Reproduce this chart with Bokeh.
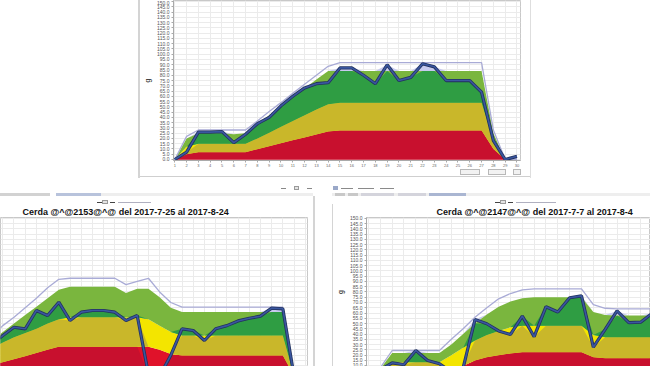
import numpy as np
from bokeh.plotting import figure
from bokeh.layouts import column, row
from bokeh.models import Range1d, FixedTicker, NumeralTickFormatter, Spacer
from bokeh.embed import file_html
from bokeh.resources import INLINE

# ---------------- data ----------------
top_days = list(range(30))
top_real = [0, 7, 26, 26, 26.5, 16, 24, 34, 40, 51, 60, 68, 72, 73, 87, 87, 80, 72, 90, 75,
            78, 91, 88, 75, 75, 75, 64, 18, 0, 3]
top_red = [0, 5, 7, 7, 7, 7, 7, 9.8, 12.6, 15.4, 18.2, 21, 23.7, 26.5, 27.5, 27.5, 27.5, 27.5,
           27.5, 27.5, 27.5, 27.5, 27.5, 27.5, 27.5, 27.5, 27.5, 10, 0, 0]
top_yellow = [0, 12, 15, 15, 15, 15, 15, 20, 25.5, 31, 36.5, 42, 47.5, 52.5, 54, 54, 54, 54,
              54, 54, 54, 54, 54, 54, 54, 54, 54, 18, 0, 0]
top_green = [0, 20, 25, 25, 25, 24, 25, 33.5, 42, 50.5, 59, 67.5, 76, 84, 84, 84, 84, 84,
             84, 84, 84, 84, 84, 84, 84, 84, 84, 25, 0, 0]
top_max = [0, 22, 28, 28, 28, 28, 28, 36.5, 45.5, 54, 63, 71.5, 80, 88.5, 92, 92, 92, 92,
           92, 92, 92, 92, 92, 92, 92, 92, 92, 28, 0, 0]

bl_title = "Cerda @^@2153@^@ del 2017-7-25 al 2017-8-24"
bl_days = list(range(-2, 28))
bl_real = [20, 30, 38.6, 46.5, 45, 62.4, 57.6, 70.3, 52.9, 60.8, 62.4, 62.4, 60.8, 52.9, 57.6,
           2, 0, 20, 45, 43.4, 33.9, 45, 48, 52.5, 55, 57, 64.6, 64, 0, 0]
bl_red = [7, 10, 13.3, 16, 19, 22, 25, 28, 28, 28, 28, 28, 28, 28, 28, 28, 25, 21,
          19.7, 19.7, 19.7, 19.7, 19.7, 19.7, 19.7, 19.7, 19.7, 19.7, 0, 0]
bl_yellow = [18, 26, 32, 37, 41, 45, 50, 54, 56, 56, 56, 56, 56, 56, 56, 54, 48, 42,
             38.6, 38.6, 38.6, 38.6, 38.6, 38.6, 38.6, 38.6, 38.6, 38.6, 0, 0]
bl_green = [22, 33, 42, 50, 58, 66, 74, 82, 85, 85, 85, 85, 85, 79, 83, 83, 75, 65,
            61, 61, 61, 61, 61, 61, 61, 61, 61, 61, 0, 0]
bl_max = [25, 38, 48, 56, 65, 74, 84, 92, 93, 93, 93, 93, 93, 87, 90, 93, 80, 70,
          65.5, 65.5, 65.5, 65.5, 65.5, 65.5, 65.5, 65.5, 65.5, 65.5, 0, 0]

br_title = "Cerda @^@2147@^@ del 2017-7-7 al 2017-8-4"
br_days = list(range(-2, 24))
br_real = [0, 0, 6, 12.7, 11, 24.4, 14.9, 11.8, 4, 8, 53.8, 49.8, 43, 39.6, 57, 37.5, 66, 61,
           74.5, 76.3, 27.5, 44.5, 62, 50.8, 51.3, 60]
br_red = [0, 0, 2, 5, 5, 5, 5, 5, 7, 10, 15, 18, 20, 21.5, 22.8, 22.8, 22.8, 22.8, 22.8, 22.8,
          18, 17, 17, 17, 17, 17]
br_yellow = [0, 0, 5, 13.3, 13.3, 13.3, 13.3, 13.3, 20, 27, 34, 39, 43, 46.5, 48, 48, 48, 48,
             48, 48, 39, 37, 37, 37, 37, 37]
br_green = [0, 0, 7, 22, 22, 22, 22, 22, 30, 40, 50, 58.5, 66, 71, 74, 75, 75, 75, 75, 75,
            61, 58, 57.6, 57.6, 57.6, 57.6]
br_max = [0, 0, 8, 24.4, 24.4, 24.4, 24.4, 24.4, 35, 45, 56, 65, 73.5, 78.5, 82, 83, 83, 83,
          83, 83, 68, 64.5, 64, 64, 64, 64]

y_ticks = list(range(0, 155, 5))

# ---------------- styles ----------------
LAV = "#c7caee"
RED_B, RED_D = "#e0122a", "#c8102e"
YEL_B, YEL_D = "#f3e500", "#c9b72a"
GRN_L, GRN_D = "#7ab63e", "#2f9d43"
ENV = "#a9abd6"
LINE = "#3a56a0"
GRID = "#ebebeb"
FONT = "Liberation Sans"
FRAME = "#d4d4d4"


def draw(p, days, real, red, yel, grn, mx):
    x = np.array(days, float)
    d = np.array(real, float)
    r = np.array(red, float)
    y = np.array(yel, float)
    g = np.array(grn, float)
    e = np.array(mx, float)
    z = np.zeros_like(d)
    p.varea(x, g, np.maximum(d, g), fill_color=LAV)
    p.varea(x, z, r, fill_color=RED_B)
    p.varea(x, r, y, fill_color=YEL_B)
    p.varea(x, y, g, fill_color=GRN_L)
    p.varea(x, z, np.clip(d, z, r), fill_color=RED_D)
    p.varea(x, r, np.clip(d, r, y), fill_color=YEL_D)
    p.varea(x, y, np.clip(d, y, g), fill_color=GRN_D)
    p.line(x, e, line_color=ENV, line_width=1.3)
    p.line(x, d, line_color="#22325e", line_width=3.2)
    p.line(x, d, line_color=LINE, line_width=1.6)


def style(p, days):
    p.background_fill_color = "white"
    p.border_fill_color = "white"
    p.outline_line_color = "#c8c8c8"
    p.xgrid.ticker = FixedTicker(ticks=days)
    p.ygrid.ticker = FixedTicker(ticks=y_ticks)
    p.xgrid.grid_line_color = GRID
    p.ygrid.grid_line_color = GRID


def yax(p):
    ax = p.yaxis[0]
    ax.ticker = FixedTicker(ticks=y_ticks)
    ax.formatter = NumeralTickFormatter(format="0.0")
    ax.major_label_text_font_size = "5px"
    ax.major_label_text_font = FONT
    ax.major_label_text_color = "#555555"
    ax.major_tick_out = 2
    ax.major_tick_in = 0
    ax.minor_tick_out = 0
    ax.minor_tick_in = 0
    ax.major_label_standoff = 2
    ax.axis_line_color = "#aaaaaa"
    ax.major_tick_line_color = "#aaaaaa"
    ax.axis_label = "g"
    ax.axis_label_text_font_size = "7px"
    ax.axis_label_text_font_style = "bold"
    ax.axis_label_standoff = 3


def title(p, text, offset):
    p.title.text = text
    p.title.align = "left"
    p.title.offset = offset
    p.title.text_font = FONT
    p.title.text_font_size = "9px"
    p.title.text_font_style = "bold"
    p.title.text_color = "#111111"
    p.title.standoff = 1


def gap(w, h):
    return Spacer(width=w, height=h)


def bar(w, h, c):
    return Spacer(width=w, height=h, styles={"background-color": c})


def dash(w, h, c):
    return Spacer(width=w, height=h,
                  styles={"background": f"linear-gradient({c},{c}) center / 100% 1px no-repeat"})


def boxed(w, h, bg="#e4e4e4", edge="#9a9a9a"):
    return Spacer(width=w, height=h, styles={"background-color": bg,
                                             "border": f"1px solid {edge}",
                                             "box-sizing": "border-box"})


# ---------------- top chart ----------------
pt = figure(width=390, height=169, output_backend="svg", toolbar_location=None,
            x_range=Range1d(-0.11, 29.3), y_range=Range1d(-0.95, 151),
            min_border_left=32, min_border_right=10, min_border_top=0, min_border_bottom=9)
style(pt, top_days)
draw(pt, top_days, top_real, top_red, top_yellow, top_green, top_max)
yax(pt)
xa = pt.xaxis[0]
xa.ticker = FixedTicker(ticks=top_days)
xa.major_label_overrides = {i: str(i + 1) for i in top_days}
xa.major_label_text_font_size = "4px"
xa.major_label_text_color = "#666666"
xa.major_tick_out = 2
xa.major_tick_in = 0
xa.minor_tick_out = 0
xa.major_label_standoff = 1
xa.axis_line_color = "#aaaaaa"
xa.major_tick_line_color = "#aaaaaa"

buttons = row(gap(320, 6), boxed(20, 6, "#f2f2f2", "#b8b8b8"), gap(8, 6),
              boxed(18, 6, "#f2f2f2", "#b8b8b8"), gap(7, 6),
              boxed(8, 6, "#f2f2f2", "#b8b8b8"), gap(9, 6))
top_block = row(gap(138, 178), bar(2, 178, FRAME),
                column(pt, buttons, gap(390, 1), bar(390, 1, "#cfcfcf"), gap(390, 1)),
                bar(1, 178, "#dedede"), gap(119, 178))

# ---------------- bottom-left chart ----------------
pl = figure(width=313, height=162, output_backend="svg", toolbar_location=None,
            x_range=Range1d(-0.205, 27.2), y_range=Range1d(9.2, 150.7),
            x_axis_location=None, y_axis_location=None,
            min_border_left=0, min_border_right=6, min_border_top=13, min_border_bottom=0)
style(pl, bl_days)
title(pl, bl_title, 22)
draw(pl, bl_days, bl_real, bl_red, bl_yellow, bl_green, bl_max)

left_block = column(
    gap(313, 8),
    row(gap(281, 4), dash(5, 4, "#888888"), gap(8, 4), boxed(5, 4), gap(8, 4),
        dash(5, 4, "#888888"), gap(1, 4)),
    gap(313, 3),
    row(bar(50, 3, "#d2d2d2"), gap(6, 3), bar(45, 3, "#b8c3dc"), bar(212, 3, "#eeeeee")),
    gap(313, 4),
    row(gap(97, 4), dash(5, 4, "#444444"), boxed(6, 4), gap(2, 4), dash(5, 4, "#444444"),
        gap(3, 4), dash(33, 4, "#b0b0c0"), gap(162, 4)),
    pl,
)
mid_block = column(gap(2, 18), bar(2, 170, FRAME))

# ---------------- bottom-right chart ----------------
pr = figure(width=317, height=162, output_backend="svg", toolbar_location=None,
            x_range=Range1d(-1.167, 22.83), y_range=Range1d(9.2, 150.7),
            x_axis_location=None,
            min_border_left=29, min_border_right=0, min_border_top=13, min_border_bottom=0)
style(pr, br_days)
title(pr, br_title, 70)
draw(pr, br_days, br_real, br_red, br_yellow, br_green, br_max)
yax(pr)

right_block = column(
    gap(335, 8),
    row(gap(18, 4), bar(5, 4, "#9aa8c8"), gap(3, 4), dash(12, 4, "#8a8a8a"), gap(5, 4),
        dash(16, 4, "#8a8a8a"), gap(6, 4), dash(14, 4, "#8a8a8a"), gap(256, 4)),
    gap(335, 3),
    row(gap(17, 3), bar(3, 3, "#eeeeee"), bar(10, 3, "#c8c8c8"), bar(3, 3, "#eeeeee"),
        bar(10, 3, "#c8c8c8"), bar(3, 3, "#eeeeee"), bar(33, 3, "#d4d4dc"), bar(4, 3, "#eeeeee"),
        bar(28, 3, "#d4d4dc"), bar(3, 3, "#eeeeee"), bar(37, 3, "#aab6d2"), bar(184, 3, "#eeeeee")),
    gap(335, 4),
    row(gap(180, 4), dash(5, 4, "#444444"), boxed(6, 4), gap(2, 4), dash(5, 4, "#444444"),
        gap(3, 4), dash(40, 4, "#b0b0c0"), gap(94, 4)),
    row(gap(17, 162), bar(1, 162, FRAME), pr),
)

layout = column(top_block, row(left_block, mid_block, right_block))

open("out.html", "w").write(file_html(layout, INLINE))
